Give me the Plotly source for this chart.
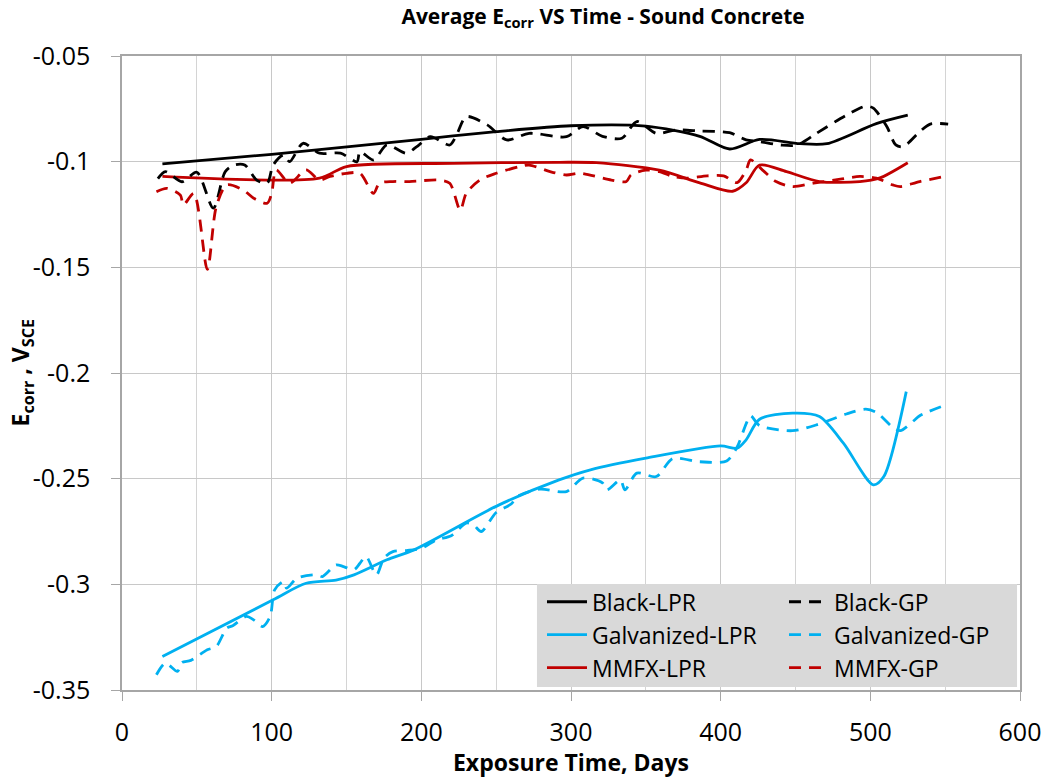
import plotly.graph_objects as go

black_lpr_days = [27, 100, 200, 250, 300, 350, 386, 406, 426, 453, 471, 504, 525]
black_lpr_vals = [-0.101, -0.0965, -0.0894, -0.0858, -0.083, -0.0832, -0.088, -0.094, -0.0895, -0.0915, -0.0915, -0.082, -0.078]

black_gp_days = [24, 29, 40, 50, 61, 69, 75, 82, 90, 97, 101, 108, 112, 121, 132, 146, 157, 159, 168, 177, 190, 197, 206, 219, 224, 230, 244, 257, 272, 297, 308, 321, 334, 344, 357, 370, 386, 406, 417, 426, 440, 451, 464, 484, 497, 502, 511, 517, 522, 533, 540, 552]
black_gp_vals = [-0.108, -0.1047, -0.1095, -0.105, -0.122, -0.1047, -0.1016, -0.1016, -0.1087, -0.1102, -0.1016, -0.0968, -0.1, -0.0913, -0.096, -0.096, -0.1, -0.0952, -0.0992, -0.0921, -0.096, -0.0929, -0.0882, -0.0921, -0.0866, -0.0787, -0.0826, -0.0897, -0.0866, -0.0882, -0.0834, -0.088, -0.0889, -0.081, -0.0866, -0.085, -0.0855, -0.0863, -0.0897, -0.0905, -0.0921, -0.0921, -0.0866, -0.078, -0.0737, -0.0747, -0.0834, -0.0921, -0.0929, -0.0858, -0.0822, -0.0822]

galv_lpr_days = [27, 101, 123, 143, 155, 177, 195, 252, 292, 313, 350, 400, 411, 417, 426, 448, 466, 482, 502, 509, 524]
galv_lpr_vals = [-0.3342, -0.3073, -0.2995, -0.298, -0.2955, -0.2884, -0.2837, -0.2624, -0.2506, -0.2458, -0.2403, -0.2345, -0.2356, -0.2316, -0.2219, -0.219, -0.2206, -0.2332, -0.2529, -0.249, -0.2088]

galv_gp_days = [23, 29, 37, 40, 46, 57, 63, 70, 74, 83, 88, 94, 99, 102, 108, 110, 117, 130, 134, 143, 148, 155, 159, 163, 170, 175, 181, 190, 200, 210, 220, 230, 235, 240, 250, 260, 264, 279, 297, 308, 321, 324, 333, 336, 344, 357, 368, 386, 404, 411, 417, 420, 426, 448, 466, 484, 497, 504, 515, 520, 529, 533, 549]
galv_gp_vals = [-0.3428, -0.3373, -0.3412, -0.337, -0.336, -0.331, -0.3294, -0.3207, -0.3196, -0.3152, -0.3168, -0.32, -0.3152, -0.3026, -0.2987, -0.3018, -0.2971, -0.2955, -0.2963, -0.2908, -0.2916, -0.2931, -0.29, -0.2868, -0.2955, -0.2876, -0.2845, -0.284, -0.283, -0.279, -0.277, -0.271, -0.272, -0.275, -0.266, -0.262, -0.2585, -0.255, -0.2561, -0.2497, -0.252, -0.2553, -0.2506, -0.2553, -0.2474, -0.249, -0.2405, -0.242, -0.2416, -0.235, -0.2241, -0.2202, -0.2249, -0.2273, -0.2241, -0.2194, -0.2171, -0.2186, -0.2257, -0.2273, -0.2226, -0.2202, -0.2155]

mmfx_lpr_days = [27, 132, 150, 221, 292, 317, 359, 386, 408, 417, 426, 444, 466, 493, 506, 525]
mmfx_lpr_vals = [-0.107, -0.1078, -0.1023, -0.1008, -0.1003, -0.1005, -0.104, -0.11, -0.114, -0.11, -0.1016, -0.1047, -0.1094, -0.1094, -0.1078, -0.1005]

mmfx_gp_days = [23, 30, 39, 41, 48, 57, 63, 70, 81, 88, 97, 100, 103, 112, 123, 132, 139, 150, 159, 168, 172, 181, 192, 212, 219, 226, 230, 239, 250, 266, 272, 286, 297, 306, 327, 337, 340, 350, 359, 368, 377, 391, 402, 411, 417, 420, 428, 437, 448, 462, 480, 493, 504, 515, 520, 533, 552]
mmfx_gp_vals = [-0.1142, -0.1126, -0.1158, -0.1205, -0.115, -0.151, -0.1213, -0.111, -0.1134, -0.1173, -0.1197, -0.115, -0.1039, -0.1102, -0.1039, -0.1087, -0.107, -0.1055, -0.1055, -0.115, -0.1102, -0.1094, -0.1094, -0.1087, -0.1102, -0.123, -0.115, -0.1087, -0.1055, -0.1023, -0.1016, -0.1047, -0.1063, -0.1055, -0.1087, -0.1094, -0.1063, -0.104, -0.1047, -0.107, -0.1078, -0.1067, -0.1067, -0.1099, -0.104, -0.0992, -0.104, -0.1094, -0.1118, -0.1102, -0.1083, -0.107, -0.1078, -0.111, -0.1118, -0.1094, -0.1067]

x_ticks = [0, 100, 200, 300, 400, 500, 600]
y_ticks = [-0.05, -0.1, -0.15, -0.2, -0.25, -0.3, -0.35]
y_tick_labels = ["-0.05", "-0.1", "-0.15", "-0.2", "-0.25", "-0.3", "-0.35"]

BLACK = "#000000"
BLUE = "#00b0f0"
RED = "#c00000"
W = 2.8
DASH = "12px,8px"

series = [
    ("Black-LPR", black_lpr_days, black_lpr_vals, BLACK, "solid", "legend"),
    ("Galvanized-LPR", galv_lpr_days, galv_lpr_vals, BLUE, "solid", "legend"),
    ("MMFX-LPR", mmfx_lpr_days, mmfx_lpr_vals, RED, "solid", "legend"),
    ("Black-GP", black_gp_days, black_gp_vals, BLACK, DASH, "legend2"),
    ("Galvanized-GP", galv_gp_days, galv_gp_vals, BLUE, DASH, "legend2"),
    ("MMFX-GP", mmfx_gp_days, mmfx_gp_vals, RED, DASH, "legend2"),
]

fig = go.Figure()
for name, xs, ys, col, dash, lg in series:
    fig.add_trace(go.Scatter(
        x=xs, y=ys, mode="lines", name=name, legend=lg, legendgroup=name,
        line=dict(color=col, width=W, dash=dash, shape="spline", smoothing=0.8),
    ))

FONT = "Open Sans"
LEG_FONT = dict(size=23, family=FONT, color="black")
legend_common = dict(
    orientation="v", yanchor="top", y=0.173, xanchor="left",
    xref="paper", yref="paper", bgcolor="rgba(0,0,0,0)", borderwidth=0,
    font=LEG_FONT, itemwidth=40, tracegroupgap=0,
)
fig.update_layout(
    width=1047, height=778,
    margin=dict(l=122, r=27, t=56, b=88, autoexpand=False),
    paper_bgcolor="white", plot_bgcolor="white",
    font=dict(family=FONT, color="black", size=19),
    title=dict(text="<b>Average E<sub>corr</sub> VS Time - Sound Concrete</b>",
               x=0.576, xanchor="center", y=0.979, yanchor="middle",
               font=dict(size=21, family=FONT)),
    showlegend=True,
    legend=dict(x=0.4677, **legend_common),
    legend2=dict(x=0.7372, **legend_common),
    shapes=[dict(type="rect", xref="paper", yref="paper",
                 x0=0.4621, x1=0.9967, y0=0.0047, y1=0.167,
                 fillcolor="#d9d9d9", line=dict(width=0), layer="above")],
    annotations=[dict(text="<b>E<sub>corr</sub> , V<sub>SCE</sub></b>",
                      xref="paper", yref="paper", x=-0.112, y=0.5,
                      xanchor="center", yanchor="middle", textangle=-90,
                      showarrow=False, font=dict(size=23, family=FONT))],
)
fig.update_xaxes(
    range=[0, 600], tickvals=x_ticks, automargin=False,
    ticks="outside", ticklen=9, tickcolor="#a6a6a6", tickwidth=1.2,
    ticklabelstandoff=10,
    showgrid=True, gridcolor="#c8c8c8", gridwidth=1,
    minor=dict(dtick=50, showgrid=True, gridcolor="#d4d4d4", gridwidth=1),
    showline=True, linecolor="#a6a6a6", linewidth=1.5, mirror=True,
    zeroline=False,
    title=dict(text="<b>Exposure Time, Days</b>", font=dict(size=23, family=FONT), standoff=0),
    tickfont=dict(size=25),
)
fig.update_yaxes(
    range=[-0.35, -0.05], tickvals=y_ticks, ticktext=y_tick_labels, automargin=False,
    ticks="outside", ticklen=9, tickcolor="#a6a6a6", tickwidth=1.2,
    ticklabelstandoff=16,
    showgrid=True, gridcolor="#c8c8c8", gridwidth=1,
    showline=True, linecolor="#a6a6a6", linewidth=1.5, mirror=True,
    zeroline=False,
    tickfont=dict(size=25),
)

fig.write_html("out.html")
